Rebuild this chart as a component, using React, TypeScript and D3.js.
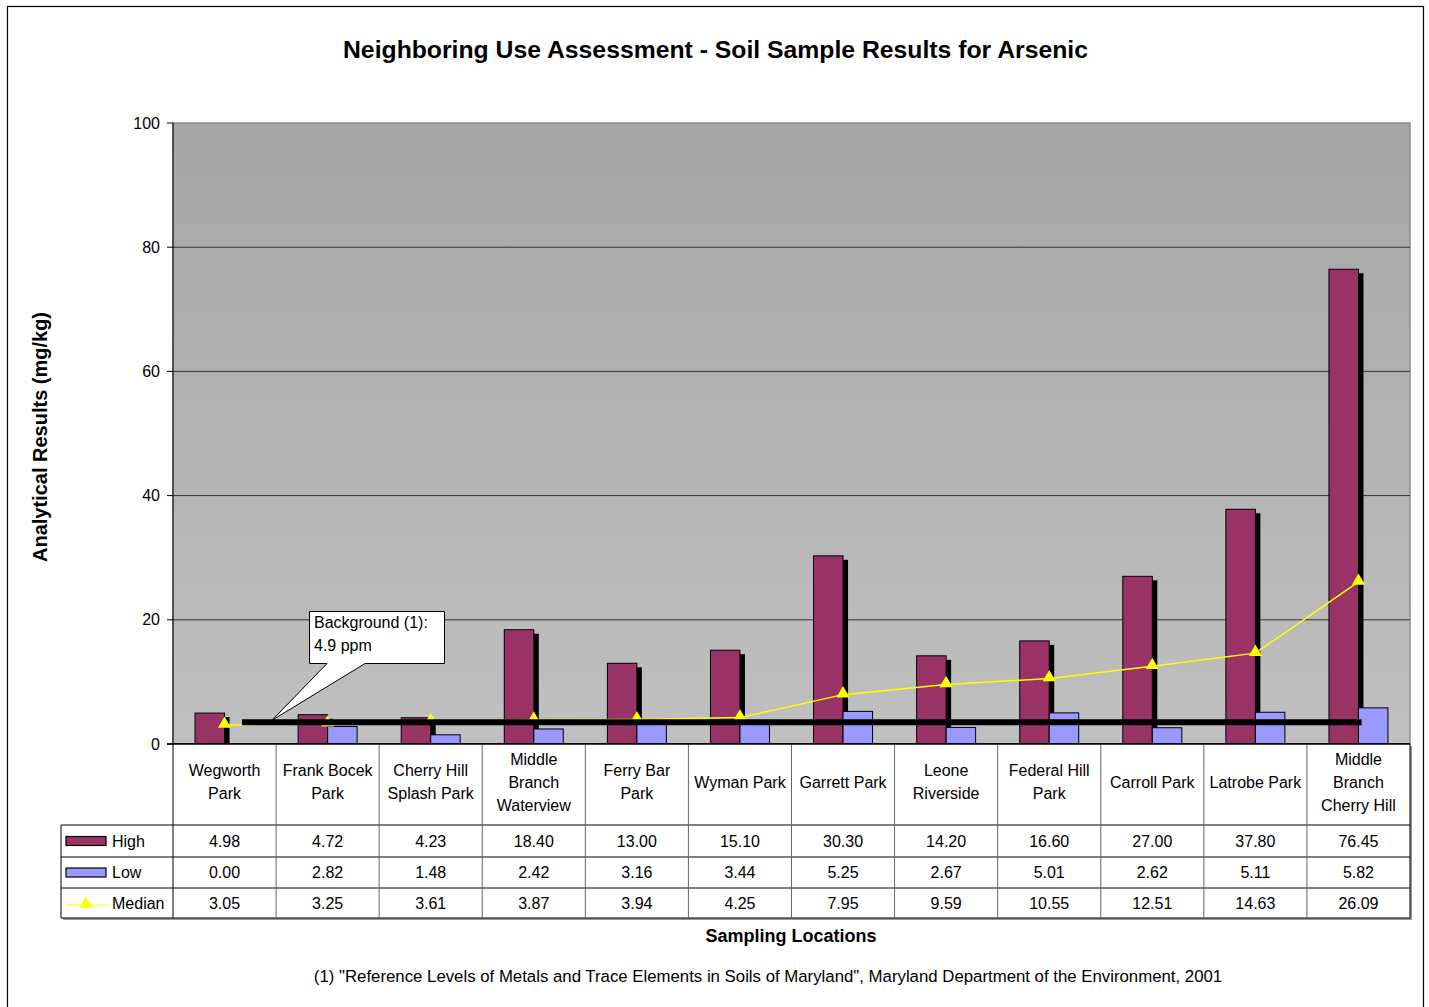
import * as d3 from "d3";

const LOCATIONS = [
  ["Wegworth", "Park"],
  ["Frank Bocek", "Park"],
  ["Cherry Hill", "Splash Park"],
  ["Middle", "Branch", "Waterview"],
  ["Ferry Bar", "Park"],
  ["Wyman Park"],
  ["Garrett Park"],
  ["Leone", "Riverside"],
  ["Federal Hill", "Park"],
  ["Carroll Park"],
  ["Latrobe Park"],
  ["Middle", "Branch", "Cherry Hill"],
];
const HIGH = [4.98, 4.72, 4.23, 18.4, 13.0, 15.1, 30.3, 14.2, 16.6, 27.0, 37.8, 76.45];
const LOW = [0.0, 2.82, 1.48, 2.42, 3.16, 3.44, 5.25, 2.67, 5.01, 2.62, 5.11, 5.82];
const MEDIAN = [3.05, 3.25, 3.61, 3.87, 3.94, 4.25, 7.95, 9.59, 10.55, 12.51, 14.63, 26.09];
const Y_TICKS = [0, 20, 40, 60, 80, 100];
// background reference line as drawn (value, start/end in category units)
const BG_LINE = { value: 3.5, from: 0.67, to: 11.53 };

const FONT = "'Liberation Sans', Arial, sans-serif";
const HIGH_COLOR = "#993366";
const LOW_COLOR = "#9999ff";

export default function App() {
  const left = 173, right = 1410, top = 123, bottom = 744;
  const x = d3.scaleBand<number>().domain(d3.range(HIGH.length)).range([left, right]);
  const y = d3.scaleLinear().domain([0, 100]).range([bottom, top]);
  const bw = x.bandwidth();
  const barW = 29.5;
  const cx = (i: number) => x(i)! + bw / 2;
  const catX = (t: number) => left + t * bw;

  const rowLabel = 825, rowHigh = 857, rowLow = 888, rowEnd = 918;
  const tableLeft = 61;

  const medianLine = d3
    .line<number>()
    .x((_, i) => cx(i))
    .y((d) => y(d));

  const tri = d3.symbol().type(d3.symbolTriangle).size(75);

  return (
    <svg
      width={1429}
      height={1007}
      style={{ position: "absolute", left: 0, top: 0, background: "#fff" }}
      fontFamily={FONT}
    >
      <defs>
        <linearGradient id="plotbg" x1="0" y1="0" x2="0" y2="1">
          <stop offset="0" stopColor="#a6a6a6" />
          <stop offset="1" stopColor="#c0c0c0" />
        </linearGradient>
      </defs>
      {/* outer chart frame */}
      <rect x={7.5} y={6.5} width={1416} height={1010} fill="#fff" stroke="#000" strokeWidth={1.2} />

      <text x={715.5} y={58} textAnchor="middle" fontSize={23} fontWeight="bold" textLength={745} lengthAdjust="spacingAndGlyphs">
        Neighboring Use Assessment - Soil Sample Results for Arsenic
      </text>

      {/* plot area */}
      <rect x={left} y={top} width={right - left} height={bottom - top} fill="url(#plotbg)" stroke="#8c8c8c" strokeWidth={1.5} />
      {Y_TICKS.filter((t) => t > 0 && t < 100).map((t) => (
        <line key={t} x1={left} x2={right} y1={y(t)} y2={y(t)} stroke="#333" strokeWidth={1} />
      ))}
      {Y_TICKS.map((t) => (
        <g key={t}>
          <line x1={167} x2={left} y1={y(t)} y2={y(t)} stroke="#000" />
          <text x={160} y={y(t)} dy="0.35em" textAnchor="end" fontSize={16}>
            {t}
          </text>
        </g>
      ))}
      <line x1={left} x2={left} y1={top} y2={bottom} stroke="#000" />

      <text
        transform={`translate(47,437) rotate(-90)`}
        textAnchor="middle"
        fontSize={20}
        fontWeight="bold"
      >
        Analytical Results (mg/kg)
      </text>

      {/* bars */}
      {HIGH.map((v, i) => (
        <g key={"h" + i}>
          <rect x={cx(i)} y={y(v) + 4} width={5} height={bottom - y(v) - 4} fill="#000" />
          <rect x={cx(i) - barW} y={y(v)} width={barW} height={bottom - y(v)} fill={HIGH_COLOR} stroke="#000" strokeWidth={1} />
        </g>
      ))}
      {LOW.map((v, i) => (
        <rect key={"l" + i} x={cx(i)} y={y(v)} width={barW} height={bottom - y(v)} fill={LOW_COLOR} stroke="#000" strokeWidth={1} />
      ))}

      {/* median */}
      <path d={medianLine(MEDIAN)!} fill="none" stroke="#ffff00" strokeWidth={1.5} />
      {MEDIAN.map((v, i) => (
        <path key={"m" + i} d={tri()!} transform={`translate(${cx(i)},${y(v) - 1})`} fill="#ffff00" />
      ))}

      {/* background line */}
      <line
        x1={catX(BG_LINE.from)}
        x2={catX(BG_LINE.to)}
        y1={y(BG_LINE.value)}
        y2={y(BG_LINE.value)}
        stroke="#000"
        strokeWidth={6}
      />

      {/* callout */}
      <path
        d={`M309.5,611.5 H444.5 V663.5 H365 L${catX(BG_LINE.from) + 30},${y(BG_LINE.value) - 2} L327,663.5 H309.5 Z`}
        fill="#fff"
        stroke="#000"
        strokeWidth={1}
      />
      <text x={314} y={628} fontSize={16}>Background (1):</text>
      <text x={314} y={651} fontSize={16}>4.9 ppm</text>

      {/* axis line at 0 */}
      <line x1={167} x2={right} y1={bottom} y2={bottom} stroke="#000" strokeWidth={1.5} />

      {/* data table */}
      <rect x={tableLeft + 2} y={rowLabel + 2} width={right - tableLeft} height={rowEnd - rowLabel} fill="#999" />
      <rect x={left + 2} y={bottom + 2} width={right - left} height={rowEnd - bottom} fill="#999" />
      <rect x={tableLeft} y={rowLabel} width={left - tableLeft} height={rowEnd - rowLabel} fill="#fff" />
      <rect x={left} y={bottom} width={right - left} height={rowEnd - bottom} fill="#fff" />
      {[rowLabel, rowHigh, rowLow, rowEnd].map((yy) => (
        <line key={yy} x1={tableLeft} x2={right} y1={yy} y2={yy} stroke="#000" />
      ))}
      <line x1={tableLeft} x2={tableLeft} y1={rowLabel} y2={rowEnd} stroke="#000" />
      {d3.range(HIGH.length + 1).map((i) => (
        <line key={"v" + i} x1={catX(i)} x2={catX(i)} y1={bottom} y2={rowEnd} stroke={i === 0 || i === HIGH.length ? "#000" : "#666"} />
      ))}
      <line x1={left} x2={right} y1={bottom} y2={bottom} stroke="#000" strokeWidth={1.5} />

      {LOCATIONS.map((lines, i) =>
        lines.map((s, k) => (
          <text
            key={i + "-" + k}
            x={cx(i)}
            y={782 + (k - (lines.length - 1) / 2) * 23}
            dy="0.35em"
            textAnchor="middle"
            fontSize={16}
          >
            {s}
          </text>
        ))
      )}
      {[
        { vals: HIGH, y0: rowLabel, y1: rowHigh },
        { vals: LOW, y0: rowHigh, y1: rowLow },
        { vals: MEDIAN, y0: rowLow, y1: rowEnd },
      ].map((r, ri) =>
        r.vals.map((v, i) => (
          <text key={ri + "-" + i} x={cx(i)} y={(r.y0 + r.y1) / 2} dy="0.35em" textAnchor="middle" fontSize={16}>
            {v.toFixed(2)}
          </text>
        ))
      )}

      {/* legend keys */}
      <rect x={66} y={(rowLabel + rowHigh) / 2 - 4.5} width={40} height={9} fill={HIGH_COLOR} stroke="#000" strokeWidth={1.2} />
      <text x={112} y={(rowLabel + rowHigh) / 2} dy="0.35em" fontSize={16}>High</text>
      <rect x={66} y={(rowHigh + rowLow) / 2 - 4.5} width={40} height={9} fill={LOW_COLOR} stroke="#000" strokeWidth={1.2} />
      <text x={112} y={(rowHigh + rowLow) / 2} dy="0.35em" fontSize={16}>Low</text>
      <line x1={66} x2={106} y1={(rowLow + rowEnd) / 2 + 2} y2={(rowLow + rowEnd) / 2 + 2} stroke="#ffff00" strokeWidth={1.2} />
      <path d={tri()!} transform={`translate(86,${(rowLow + rowEnd) / 2 + 1})`} fill="#ffff00" />
      <text x={112} y={(rowLow + rowEnd) / 2} dy="0.35em" fontSize={16}>Median</text>

      <text x={791} y={942} textAnchor="middle" fontSize={18} fontWeight="bold">
        Sampling Locations
      </text>
      <text x={768} y={982} textAnchor="middle" fontSize={16.8}>
        (1) "Reference Levels of Metals and Trace Elements in Soils of Maryland", Maryland Department of the Environment, 2001
      </text>
    </svg>
  );
}
